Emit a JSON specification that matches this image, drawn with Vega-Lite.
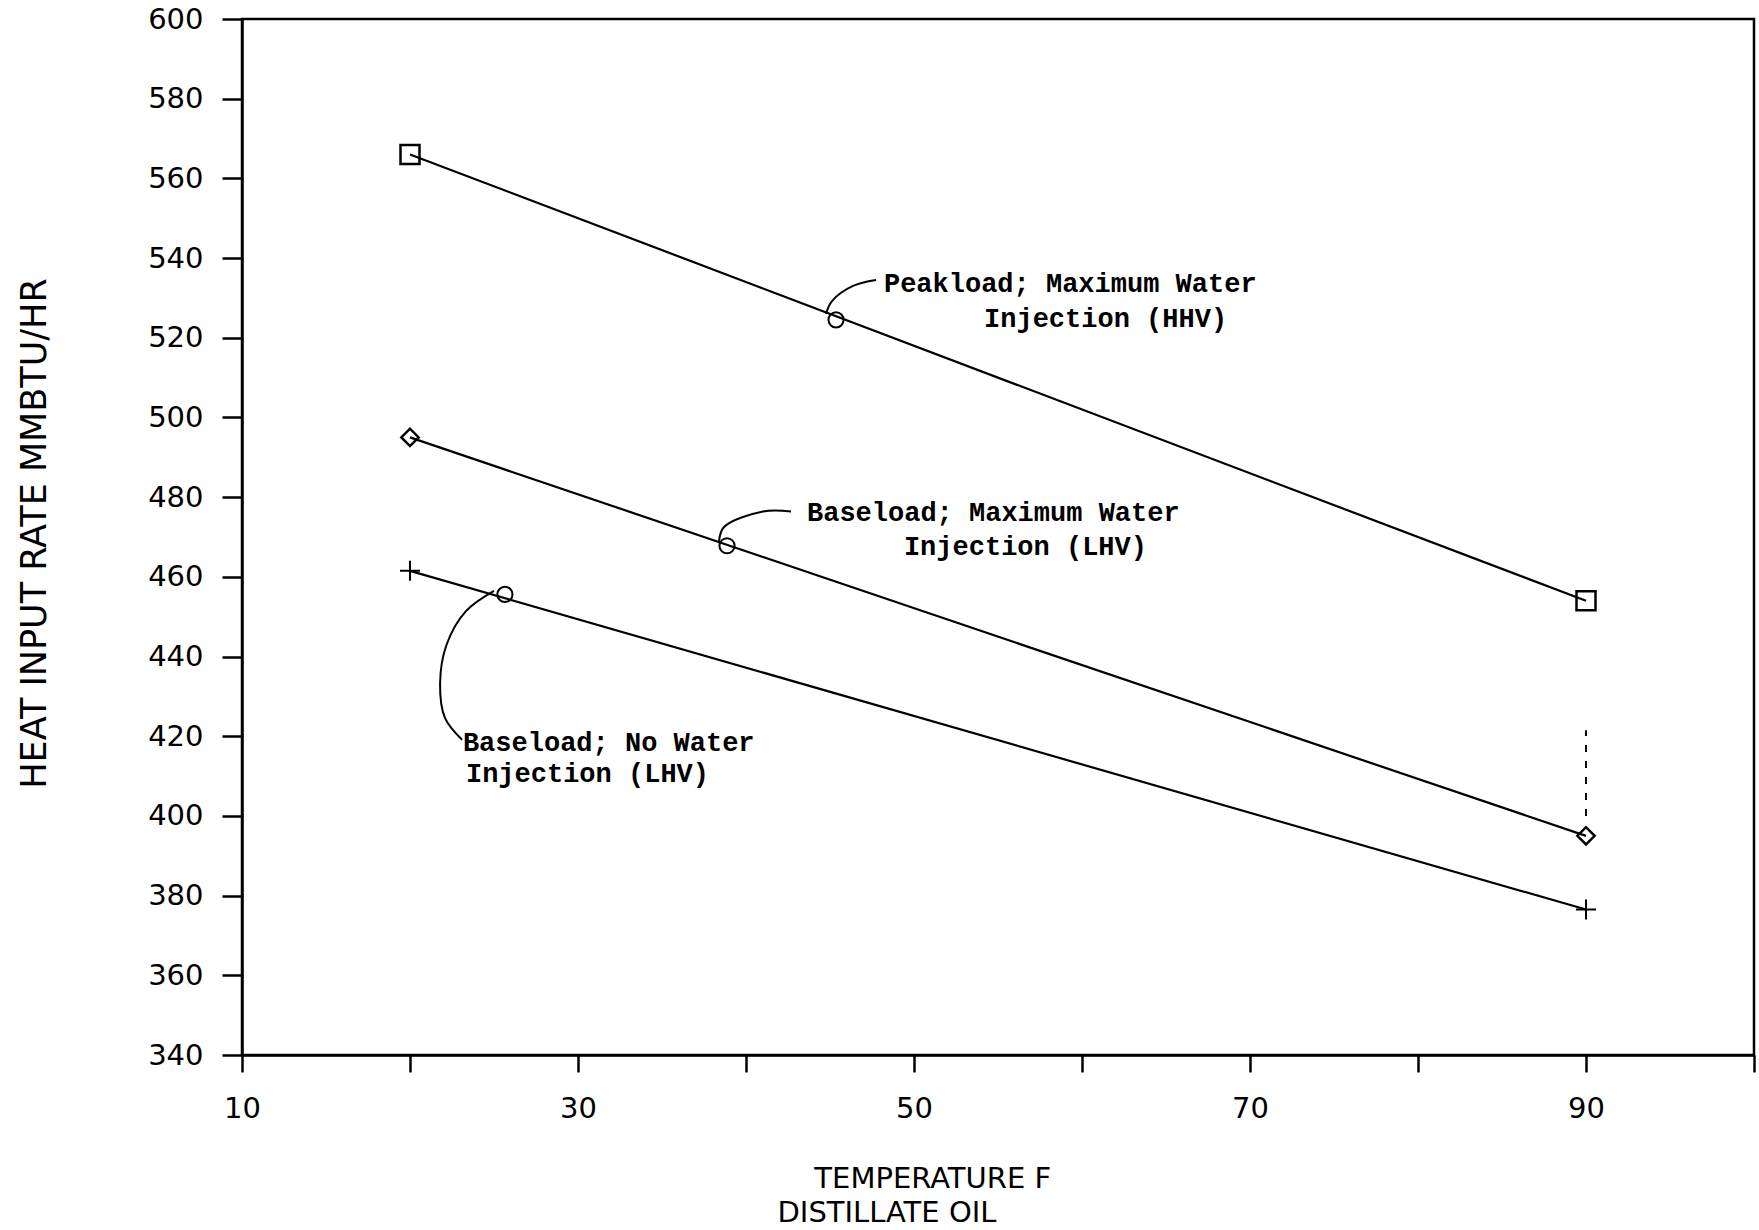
{
  "$schema": "https://vega.github.io/schema/vega-lite/v6.json",
  "width": 1512,
  "height": 1036,
  "autosize": {"type": "none"},
  "padding": {"left": 242, "top": 19, "right": 5, "bottom": 175},
  "background": "white",
  "config": {
    "view": {"stroke": "black", "strokeWidth": 2.5},
    "axis": {
      "grid": false,
      "domainColor": "black",
      "domainWidth": 2.5,
      "tickColor": "black",
      "tickWidth": 2.5,
      "labelColor": "black",
      "titleColor": "black",
      "labelFont": "DejaVu Sans",
      "titleFont": "DejaVu Sans",
      "titleFontWeight": "normal",
      "labelOverlap": false,
      "labelFlush": false
    }
  },
  "datasets": {
    "series": [
      {"temp": 20, "rate": 566, "series": "Peakload"},
      {"temp": 90, "rate": 454, "series": "Peakload"},
      {"temp": 20, "rate": 495, "series": "BaseMax"},
      {"temp": 90, "rate": 395, "series": "BaseMax"},
      {"temp": 20, "rate": 461.5, "series": "BaseNo"},
      {"temp": 90, "rate": 376.5, "series": "BaseNo"}
    ],
    "leaders": [
      {"leader": "p", "ord": 1, "temp": 47.74, "rate": 534.5},
      {"leader": "p", "ord": 2, "temp": 46.37, "rate": 533.0},
      {"leader": "p", "ord": 3, "temp": 45.12, "rate": 529.2},
      {"leader": "p", "ord": 4, "temp": 44.76, "rate": 526.0},
      {"leader": "m", "ord": 1, "temp": 42.68, "rate": 476.4},
      {"leader": "m", "ord": 2, "temp": 41.01, "rate": 476.4},
      {"leader": "m", "ord": 3, "temp": 38.69, "rate": 472.5},
      {"leader": "m", "ord": 4, "temp": 38.39, "rate": 468.8},
      {"leader": "n", "ord": 1, "temp": 25.0, "rate": 456.5},
      {"leader": "n", "ord": 2, "temp": 23.33, "rate": 451.4},
      {"leader": "n", "ord": 3, "temp": 22.17, "rate": 442.9},
      {"leader": "n", "ord": 4, "temp": 21.79, "rate": 433.1},
      {"leader": "n", "ord": 5, "temp": 22.08, "rate": 424.6},
      {"leader": "n", "ord": 6, "temp": 23.1, "rate": 419.1}
    ],
    "loops": [
      {"temp": 45.36, "rate": 524.5},
      {"temp": 38.87, "rate": 467.8},
      {"temp": 25.65, "rate": 455.6}
    ],
    "labels": [
      {"text": "Peakload; Maximum Water", "temp": 48.21, "rate": 533.5},
      {"text": "Injection (HHV)", "temp": 54.17, "rate": 524.7},
      {"text": "Baseload; Maximum Water", "temp": 43.63, "rate": 476.0},
      {"text": "Injection (LHV)", "temp": 49.4, "rate": 467.5},
      {"text": "Baseload; No Water", "temp": 23.15, "rate": 418.3},
      {"text": "Injection (LHV)", "temp": 23.33, "rate": 410.5}
    ],
    "dotted": [
      {"temp": 90, "low": 400, "high": 421.5}
    ]
  },
  "encoding": {
    "x": {
      "field": "temp",
      "type": "quantitative",
      "scale": {"domain": [10, 100], "nice": false, "zero": false},
      "axis": {
        "values": [10, 20, 30, 40, 50, 60, 70, 80, 90, 100],
        "labelExpr": "datum.value % 20 == 10 ? datum.label : ''",
        "tickSize": 17,
        "labelPadding": 22,
        "labelFontSize": 29,
        "title": ["\u200b\u00a0\u00a0\u00a0\u00a0TEMPERATURE F", "DISTILLATE OIL"],
        "titleFontSize": 29,
        "titleLineHeight": 34,
        "titleAlign": "left",
        "titleBaseline": "top",
        "titleX": 535,
        "titleY": 109
      }
    },
    "y": {
      "field": "rate",
      "type": "quantitative",
      "scale": {"domain": [340, 600], "nice": false, "zero": false},
      "axis": {
        "values": [340, 360, 380, 400, 420, 440, 460, 480, 500, 520, 540, 560, 580, 600],
        "tickSize": 20,
        "labelPadding": 19,
        "labelFontSize": 29,
        "title": "HEAT INPUT RATE MMBTU/HR",
        "titleFontSize": 35,
        "titleBaseline": "middle",
        "titleAngle": -90,
        "titleX": -208,
        "titleY": 514
      }
    }
  },
  "layer": [
    {
      "data": {"name": "series"},
      "mark": {"type": "line", "color": "black", "strokeWidth": 2.2},
      "encoding": {"detail": {"field": "series"}}
    },
    {
      "data": {"name": "series"},
      "transform": [{"filter": "datum.series == 'Peakload'"}],
      "mark": {"type": "point", "shape": "square", "size": 361, "filled": false, "color": "black", "strokeWidth": 2.5, "opacity": 1}
    },
    {
      "data": {"name": "series"},
      "transform": [{"filter": "datum.series == 'BaseMax'"}],
      "mark": {"type": "point", "shape": "diamond", "size": 300, "filled": false, "color": "black", "strokeWidth": 2.5, "opacity": 1}
    },
    {
      "data": {"name": "series"},
      "transform": [{"filter": "datum.series == 'BaseNo'"}],
      "mark": {"type": "point", "shape": "M-1,0H1M0,-1V1", "size": 400, "filled": false, "color": "black", "strokeWidth": 2, "opacity": 1}
    },
    {
      "data": {"name": "leaders"},
      "mark": {"type": "line", "color": "black", "strokeWidth": 2, "interpolate": "catmull-rom"},
      "encoding": {
        "detail": {"field": "leader"},
        "order": {"field": "ord", "type": "quantitative"}
      }
    },
    {
      "data": {"name": "loops"},
      "mark": {"type": "point", "shape": "circle", "size": 230, "filled": false, "color": "black", "strokeWidth": 2, "opacity": 1}
    },
    {
      "data": {"name": "dotted"},
      "mark": {"type": "rule", "color": "black", "strokeWidth": 2, "strokeDash": [7, 9]},
      "encoding": {
        "y": {"field": "low", "type": "quantitative"},
        "y2": {"field": "high"}
      }
    },
    {
      "data": {"name": "labels"},
      "mark": {"type": "text", "font": "Liberation Mono", "fontSize": 27, "fontWeight": "bold", "align": "left", "baseline": "middle", "color": "black"},
      "encoding": {"text": {"field": "text"}}
    }
  ]
}
